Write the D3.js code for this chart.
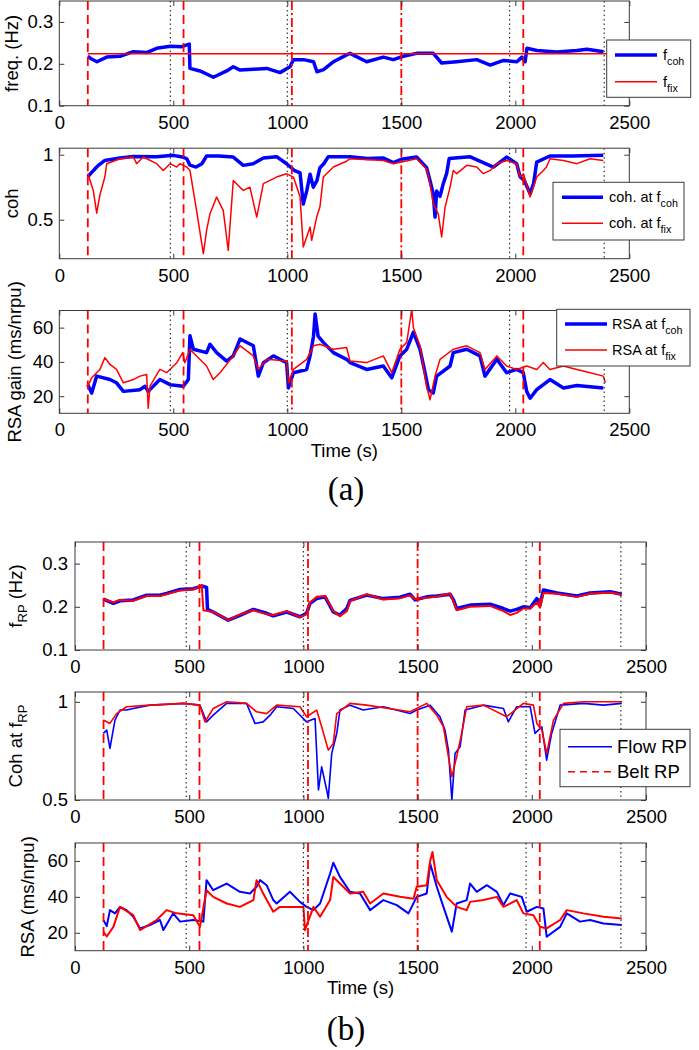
<!DOCTYPE html>
<html>
<head>
<meta charset="utf-8">
<script src="https://cdn.jsdelivr.net/npm/d3@7"></script>
<style>
body { margin: 0; background: #fff; }
svg { display: block; font-family: "Liberation Sans", Arial, sans-serif; }
</style>
</head>
<body>
<svg id="fig" width="699" height="1050"></svg>
<script>
// ---- data: [time (s), value] ----
var xTicks = [0, 500, 1000, 1500, 2000, 2500];
var freqTicks = [0.1, 0.2, 0.3];
var cohTicks = [0.5, 1];
var rsaTicks = [20, 40, 60];

// event markers (s)
var redDashed = [125, 545, 2035];
var redDashDot = [1020, 1500];
var blackDotted = [487, 1000, 1975, 2390];

// (a) top: frequency
var fCoh = [[125,0.218],[140,0.212],[165,0.205],[208,0.216],[266,0.218],[325,0.229],[383,0.227],[427,0.237],[486,0.242],[537,0.241],[570,0.247],[573,0.189],[617,0.183],[676,0.168],[734,0.183],[763,0.193],[793,0.185],[851,0.187],[910,0.189],[968,0.179],[1012,0.193],[1027,0.210],[1071,0.210],[1115,0.205],[1130,0.181],[1159,0.186],[1203,0.205],[1262,0.222],[1275,0.225],[1348,0.205],[1421,0.216],[1465,0.210],[1509,0.218],[1567,0.225],[1640,0.225],[1677,0.202],[1743,0.205],[1831,0.210],[1890,0.197],[1948,0.208],[2007,0.205],[2029,0.216],[2043,0.205],[2051,0.237],[2095,0.232],[2182,0.228],[2270,0.232],[2314,0.235],[2387,0.229]];
var fFix = [[125,0.224],[2400,0.224]];

// (a) middle: coherence
var cohAtCoh = [[125,0.83],[140,0.86],[164,0.905],[180,0.93],[200,0.956],[266,0.975],[325,0.987],[427,0.985],[500,0.995],[545,0.98],[559,0.969],[573,0.92],[600,0.905],[625,0.93],[646,0.99],[700,0.99],[763,0.982],[807,0.918],[850,0.93],[895,0.975],[953,0.985],[997,0.93],[1030,0.88],[1056,0.86],[1070,0.62],[1085,0.72],[1100,0.85],[1114,0.75],[1130,0.8],[1143,0.9],[1160,0.93],[1180,0.985],[1275,0.985],[1350,0.97],[1420,0.975],[1465,0.94],[1500,0.965],[1567,0.982],[1611,0.9],[1626,0.80],[1640,0.7],[1648,0.52],[1655,0.72],[1670,0.68],[1684,0.777],[1699,0.856],[1710,0.97],[1800,0.985],[1904,0.905],[1962,0.982],[2006,0.931],[2021,0.83],[2040,0.8],[2065,0.70],[2080,0.777],[2094,0.943],[2152,0.99],[2250,0.99],[2386,0.995]];
var cohAtFix = [[125,0.855],[149,0.725],[164,0.55],[178,0.69],[200,0.83],[208,0.93],[266,0.969],[325,0.982],[339,0.931],[368,0.982],[427,0.931],[456,0.879],[486,0.931],[515,0.905],[529,0.931],[559,0.905],[573,0.879],[602,0.572],[632,0.238],[646,0.418],[661,0.546],[690,0.674],[719,0.572],[741,0.264],[763,0.802],[807,0.725],[836,0.751],[866,0.52],[895,0.777],[953,0.828],[997,0.853],[1027,0.828],[1056,0.674],[1070,0.29],[1100,0.443],[1107,0.341],[1129,0.52],[1143,0.597],[1158,0.828],[1202,0.905],[1260,0.95],[1275,0.969],[1421,0.956],[1465,0.931],[1567,0.969],[1611,0.892],[1626,0.777],[1640,0.623],[1662,0.546],[1677,0.367],[1692,0.597],[1714,0.751],[1728,0.879],[1743,0.854],[1787,0.918],[1831,0.905],[1860,0.854],[1890,0.879],[1919,0.931],[1962,0.956],[2006,0.931],[2021,0.828],[2036,0.853],[2065,0.674],[2094,0.828],[2123,0.879],[2137,0.905],[2152,0.969],[2211,0.956],[2270,0.931],[2328,0.969],[2386,0.956]];

// (a) bottom: RSA gain
var rsaAtCoh = [[125,26.7],[142,21.8],[164,31.7],[222,29.7],[251,27.8],[281,22.8],[354,23.8],[376,25.8],[390,22.8],[441,29.7],[486,26.7],[544,25.8],[566,29.7],[573,55.3],[588,47.4],[646,45.4],[661,50.3],[690,45.4],[734,40.5],[763,43.5],[793,53.4],[851,49.4],[873,31.7],[895,39.5],[939,43.5],[997,39.5],[1005,24.8],[1027,33.7],[1085,35.6],[1100,43.5],[1115,55],[1122,68],[1135,55],[1158,51.4],[1202,45.4],[1260,41.5],[1275,39.6],[1348,35.6],[1421,37.6],[1458,30.7],[1494,43.5],[1524,47.4],[1553,57.3],[1582,47.4],[1604,33.7],[1619,23.8],[1640,21.8],[1655,31.7],[1714,37.6],[1728,45.4],[1787,47.4],[1845,43.5],[1867,31.7],[1919,41.5],[1962,33.7],[2006,35.6],[2035,33.7],[2050,22.8],[2065,18.8],[2094,23.8],[2152,29.7],[2211,24.8],[2270,26.2],[2386,24.8]];
var rsaAtFix = [[125,25.8],[142,30.7],[178,35.6],[200,42.5],[222,38.5],[251,35.6],[281,27.8],[325,29.7],[354,31.7],[383,32.7],[390,13],[398,25.8],[441,35.6],[471,33.7],[515,39.5],[541,45.4],[551,39.5],[573,47.4],[602,43.5],[646,37.6],[675,29.7],[705,33.7],[763,43.5],[793,49.4],[851,43.5],[873,35.6],[910,41.5],[997,40.5],[1005,27.8],[1027,35.6],[1085,41.5],[1115,49.4],[1143,50.3],[1202,47.4],[1260,48.4],[1275,40.5],[1348,39.6],[1421,43.5],[1458,33.7],[1494,47.4],[1524,51.4],[1546,71],[1553,60],[1582,49.4],[1611,25.8],[1626,17.9],[1648,31.7],[1670,41.5],[1728,47.4],[1787,49.4],[1845,45.4],[1867,35.6],[1919,43.5],[1962,37.6],[2006,35.6],[2050,37.6],[2094,35.6],[2123,39.6],[2152,35.6],[2211,37.6],[2270,35.6],[2328,33.7],[2386,31.7],[2395,27.8]];

// (b) top: respiratory frequency
var fFlow = [[124,0.218],[168,0.208],[197,0.214],[255,0.216],[314,0.227],[372,0.227],[401,0.231],[460,0.240],[518,0.242],[555,0.248],[576,0.245],[580,0.194],[605,0.188],[671,0.169],[722,0.18],[781,0.194],[839,0.185],[868,0.179],[927,0.188],[985,0.177],[1014,0.185],[1029,0.208],[1058,0.219],[1095,0.223],[1131,0.188],[1160,0.181],[1190,0.196],[1204,0.215],[1277,0.227],[1350,0.219],[1423,0.222],[1467,0.229],[1489,0.216],[1540,0.223],[1584,0.225],[1642,0.229],[1657,0.216],[1671,0.196],[1730,0.204],[1817,0.206],[1876,0.196],[1905,0.19],[1934,0.194],[1963,0.2],[1993,0.198],[2022,0.219],[2036,0.204],[2051,0.239],[2110,0.232],[2197,0.225],[2255,0.232],[2343,0.235],[2394,0.229]];
var fBelt = [[124,0.218],[168,0.21],[197,0.216],[255,0.214],[314,0.225],[372,0.225],[401,0.229],[460,0.238],[518,0.24],[555,0.25],[562,0.192],[605,0.188],[671,0.169],[722,0.182],[781,0.192],[839,0.183],[868,0.181],[927,0.19],[985,0.176],[1014,0.183],[1029,0.21],[1058,0.223],[1095,0.225],[1131,0.19],[1160,0.178],[1190,0.19],[1204,0.213],[1277,0.229],[1350,0.217],[1423,0.22],[1467,0.227],[1489,0.218],[1540,0.221],[1584,0.224],[1642,0.231],[1657,0.212],[1671,0.192],[1730,0.2],[1817,0.202],[1876,0.19],[1905,0.181],[1934,0.186],[1963,0.196],[1993,0.196],[2022,0.21],[2036,0.198],[2051,0.232],[2110,0.23],[2197,0.223],[2255,0.23],[2343,0.233],[2394,0.228]];

// (b) middle: coherence at f_RP
var cohFlow = [[124,0.839],[139,0.856],[153,0.763],[175,0.907],[197,0.958],[226,0.958],[255,0.966],[328,0.983],[401,0.987],[474,0.992],[547,0.983],[576,0.898],[605,0.932],[664,0.992],[751,0.992],[788,0.89],[824,0.898],[854,0.932],[883,0.975],[956,0.966],[1014,0.898],[1051,0.915],[1066,0.551],[1080,0.669],[1102,0.551],[1109,0.508],[1124,0.737],[1146,0.839],[1160,0.958],[1204,0.983],[1262,0.958],[1350,0.975],[1467,0.94],[1496,0.958],[1555,0.983],[1598,0.924],[1620,0.856],[1635,0.754],[1650,0.5],[1664,0.737],[1686,0.771],[1708,0.958],[1788,0.983],[1876,0.966],[1897,0.898],[1934,0.975],[1993,0.975],[2014,0.839],[2044,0.873],[2065,0.703],[2087,0.839],[2124,0.983],[2226,0.992],[2314,0.983],[2394,0.992]];
var cohBelt = [[124,0.907],[153,0.89],[182,0.94],[226,0.975],[328,0.983],[474,0.992],[547,0.983],[569,0.898],[605,0.966],[664,1.0],[751,0.992],[795,0.949],[839,0.94],[883,0.983],[985,0.975],[1014,0.924],[1058,0.958],[1080,0.873],[1109,0.754],[1131,0.788],[1146,0.94],[1204,0.992],[1277,0.983],[1467,0.949],[1540,0.992],[1584,0.932],[1613,0.873],[1635,0.72],[1650,0.619],[1671,0.72],[1693,0.839],[1715,0.975],[1788,0.983],[1890,0.924],[1963,0.992],[2007,0.983],[2022,0.89],[2044,0.856],[2065,0.737],[2095,0.907],[2139,0.992],[2226,1.0],[2394,1.0]];

// (b) bottom: RSA
var rsaFlow = [[124,27.1],[139,23.7],[153,32.6],[175,30.8],[197,34.4],[226,32.6],[255,28.9],[285,22.4],[328,24.3],[372,27.1],[387,21.5],[430,30.8],[460,26.2],[518,27.1],[562,26.2],[576,49.3],[605,43.7],[664,47.4],[722,42.8],[766,41.9],[795,45.6],[810,49.3],[839,46.5],[868,38.2],[883,36.3],[941,42.8],[985,37.2],[1014,34.4],[1044,32.6],[1073,36.3],[1117,53],[1131,59],[1160,51.1],[1204,42.8],[1248,41.9],[1292,32.6],[1350,38.2],[1409,35.4],[1460,30.8],[1496,40],[1540,41.9],[1555,58.6],[1584,45.6],[1613,34.4],[1635,26.2],[1650,20.6],[1671,36.3],[1715,38.2],[1730,47.4],[1759,42.8],[1803,46.5],[1847,42.8],[1876,35.4],[1905,41.9],[1956,40],[1978,31.7],[2022,34.4],[2051,33.5],[2065,17.8],[2124,23.3],[2153,30.8],[2211,26.2],[2255,27.1],[2314,25.2],[2394,24.3]];
var rsaBelt = [[124,20.6],[139,17.9],[168,23.3],[197,34.4],[255,29.8],[285,21.5],[357,27.1],[401,32.6],[445,30.8],[518,29.8],[547,23.3],[576,43.7],[605,40],[664,36.3],[722,34.4],[781,38.2],[795,49.3],[824,41.9],[868,31.7],[897,34.4],[956,34.4],[1000,34.4],[1007,21.5],[1044,34.4],[1073,28.9],[1117,38.2],[1131,51.1],[1160,47.4],[1204,41.9],[1262,42.8],[1292,36.3],[1350,41.9],[1423,40],[1482,39],[1496,45.6],[1540,46.5],[1555,60],[1565,65],[1584,49.3],[1627,40],[1671,34.4],[1715,32.6],[1730,37.2],[1788,38.2],[1847,40],[1876,34.4],[1934,38.2],[1963,30.8],[2007,29.8],[2036,23.3],[2065,22.4],[2124,27.1],[2153,32.6],[2226,30.8],[2314,28.9],[2394,28]];

var BLUE = "#0000ff", RED = "#ff0000", AX = "#3a3a3a";
var svg = d3.select("#fig");
var clipN = 0;

function panel(p) {
  var x = d3.scaleLinear().domain([0, 2500]).range([p.left, p.right]);
  var y = d3.scaleLinear().domain(p.domain).range([p.bottom, p.top]);
  var g = svg.append("g");
  var id = "clip" + (clipN++);
  svg.append("clipPath").attr("id", id).append("rect")
    .attr("x", p.left).attr("y", p.top)
    .attr("width", p.right - p.left).attr("height", p.bottom - p.top);

  var line = d3.line().x(function(d) { return x(d[0]); }).y(function(d) { return y(d[1]); });
  var plot = g.append("g").attr("clip-path", "url(#" + id + ")");
  p.series.forEach(function(s) {
    plot.append("path").datum(s.data)
      .attr("d", line)
      .attr("fill", "none")
      .attr("stroke", s.color)
      .attr("stroke-width", s.width)
      .attr("stroke-linejoin", "round");
  });

  // event markers
  function vlines(vals, color, w, dash) {
    plot.selectAll(null).data(vals).enter().append("line")
      .attr("x1", function(d) { return x(d); }).attr("x2", function(d) { return x(d); })
      .attr("y1", p.top).attr("y2", p.bottom)
      .attr("stroke", color).attr("stroke-width", w)
      .attr("stroke-dasharray", dash);
  }
  vlines(blackDotted, "#333", 1.2, "1.5,3");
  vlines(redDashed, RED, 1.8, "9,5");
  vlines(redDashDot, RED, 1.8, "9,3,2,3");

  // axes, ticks inside on all sides
  var fmt = function(d) { return String(d); };
  var left = g.append("g").attr("transform", "translate(" + p.left + ",0)")
    .call(d3.axisLeft(y).tickValues(p.yticks).tickSize(-5).tickSizeOuter(0).tickPadding(p.ypad).tickFormat(fmt));
  var right = g.append("g").attr("transform", "translate(" + p.right + ",0)")
    .call(d3.axisRight(y).tickValues(p.yticks).tickSize(-5).tickSizeOuter(0).tickFormat(""));
  var bottom = g.append("g").attr("transform", "translate(0," + p.bottom + ")")
    .call(d3.axisBottom(x).tickValues(xTicks).tickSize(-5).tickSizeOuter(0).tickPadding(10).tickFormat(fmt));
  var top = g.append("g").attr("transform", "translate(0," + p.top + ")")
    .call(d3.axisTop(x).tickValues(xTicks).tickSize(-5).tickSizeOuter(0).tickFormat(""));
  [left, right, bottom, top].forEach(function(a) {
    a.attr("color", AX);
    a.select(".domain").remove();
    a.selectAll("text").attr("fill", "#000").style("font-size", "18.5px")
      .style("font-family", "'Liberation Sans', Arial, sans-serif");
  });
  g.append("rect").attr("x", p.left).attr("y", p.top)
    .attr("width", p.right - p.left).attr("height", p.bottom - p.top)
    .attr("fill", "none").attr("stroke", AX).attr("stroke-width", 1);

  // y label (rotated), optional subscript
  var t = g.append("text")
    .attr("transform", "translate(" + p.ylabX + "," + ((p.top + p.bottom) / 2) + ") rotate(-90)")
    .attr("text-anchor", "middle").style("font-size", "18.5px");
  p.ylabel.forEach(function(part) {
    var ts = t.append("tspan").text(part[0]);
    if (part[1] === "sub") ts.attr("dy", 5).style("font-size", "13px");
    if (part[1] === "after") ts.attr("dy", -5);
  });
  return { x: x, y: y };
}

function legend(L) {
  var g = svg.append("g");
  g.append("rect").attr("x", L.x0).attr("y", L.y0).attr("width", L.x1 - L.x0).attr("height", L.y1 - L.y0)
    .attr("fill", "#fff").attr("stroke", AX).attr("stroke-width", 1);
  L.items.forEach(function(it) {
    g.append("line").attr("x1", L.lx0).attr("x2", L.lx1).attr("y1", it.y).attr("y2", it.y)
      .attr("stroke", it.color).attr("stroke-width", it.width)
      .attr("stroke-dasharray", it.dash || null);
    var t = g.append("text").attr("x", L.tx).attr("y", it.y + L.dy).style("font-size", L.fs + "px");
    t.append("tspan").text(it.text);
    if (it.sub) t.append("tspan").text(it.sub).attr("dy", 5).style("font-size", (L.fs * 0.74) + "px");
  });
}

// ---- figure (a) ----
var AL = 59.3, AR = 629.3;
panel({ left: AL, right: AR, top: 1, bottom: 105.7, domain: [0.1, 0.35], yticks: freqTicks, ypad: 6,
  ylabX: 17.5, ylabel: [["freq. (Hz)"]],
  series: [{ data: fCoh, color: BLUE, width: 3.5 }, { data: fFix, color: RED, width: 1.5 }] });
panel({ left: AL, right: AR, top: 148.2, bottom: 258.7, domain: [0.2, 1.05], yticks: cohTicks, ypad: 6,
  ylabX: 17.5, ylabel: [["coh"]],
  series: [{ data: cohAtCoh, color: BLUE, width: 3.5 }, { data: cohAtFix, color: RED, width: 1.5 }] });
panel({ left: AL, right: AR, top: 310.5, bottom: 413.3, domain: [10, 70], yticks: rsaTicks, ypad: 6,
  ylabX: 20.5, ylabel: [["RSA gain (ms/nrpu)"]],
  series: [{ data: rsaAtCoh, color: BLUE, width: 3.5 }, { data: rsaAtFix, color: RED, width: 1.5 }] });

svg.append("text").attr("x", (AL + AR) / 2).attr("y", 456.5).attr("text-anchor", "middle")
  .style("font-size", "18.5px").text("Time (s)");
svg.append("text").attr("x", 346).attr("y", 500).attr("text-anchor", "middle")
  .style("font-family", "'Liberation Serif', 'DejaVu Serif', serif").style("font-size", "33px").text("(a)");

legend({ x0: 606.7, y0: 40, x1: 690.7, y1: 97.3, lx0: 615, lx1: 657, tx: 663, dy: 5, fs: 14.5,
  items: [{ y: 55, color: BLUE, width: 3.5, text: "f", sub: "coh" },
          { y: 81.7, color: RED, width: 1.5, text: "f", sub: "fix" }] });
legend({ x0: 553, y0: 182.3, x1: 684, y1: 240, lx0: 562, lx1: 603, tx: 609, dy: 5, fs: 14.5,
  items: [{ y: 197.3, color: BLUE, width: 3.5, text: "coh. at f", sub: "coh" },
          { y: 223.3, color: RED, width: 1.5, text: "coh. at f", sub: "fix" }] });
legend({ x0: 556.7, y0: 309.3, x1: 690, y1: 366, lx0: 565, lx1: 607, tx: 612, dy: 5, fs: 14.5,
  items: [{ y: 324, color: BLUE, width: 3.5, text: "RSA at f", sub: "coh" },
          { y: 350, color: RED, width: 1.5, text: "RSA at f", sub: "fix" }] });

// ---- figure (b) ----
var BL = 75, BR = 646;
panel({ left: BL, right: BR, top: 542, bottom: 650, domain: [0.1, 0.35], yticks: freqTicks, ypad: 7,
  ylabX: 22, ylabel: [["f"], ["RP", "sub"], [" (Hz)", "after"]],
  series: [{ data: fFlow, color: BLUE, width: 3.5 }, { data: fBelt, color: RED, width: 2 }] });
panel({ left: BL, right: BR, top: 692, bottom: 800, domain: [0.5, 1.05], yticks: cohTicks, ypad: 7,
  ylabX: 22, ylabel: [["Coh at f"], ["RP", "sub"]],
  series: [{ data: cohFlow, color: BLUE, width: 1.6 }, { data: cohBelt, color: RED, width: 1.6 }] });
panel({ left: BL, right: BR, top: 843, bottom: 950.7, domain: [10, 70], yticks: rsaTicks, ypad: 7,
  ylabX: 34, ylabel: [["RSA (ms/nrpu)"]],
  series: [{ data: rsaFlow, color: BLUE, width: 2 }, { data: rsaBelt, color: RED, width: 2 }] });

svg.append("text").attr("x", (BL + BR) / 2).attr("y", 993.5).attr("text-anchor", "middle")
  .style("font-size", "18.5px").text("Time (s)");
svg.append("text").attr("x", 346).attr("y", 1040).attr("text-anchor", "middle")
  .style("font-family", "'Liberation Serif', 'DejaVu Serif', serif").style("font-size", "33px").text("(b)");

legend({ x0: 560, y0: 729.3, x1: 690, y1: 786.7, lx0: 568, lx1: 612, tx: 617, dy: 6.5, fs: 18.5,
  items: [{ y: 746.7, color: BLUE, width: 1.6, text: "Flow RP" },
          { y: 771.7, color: RED, width: 1.6, text: "Belt RP", dash: "7,5" }] });
</script>
</body>
</html>
